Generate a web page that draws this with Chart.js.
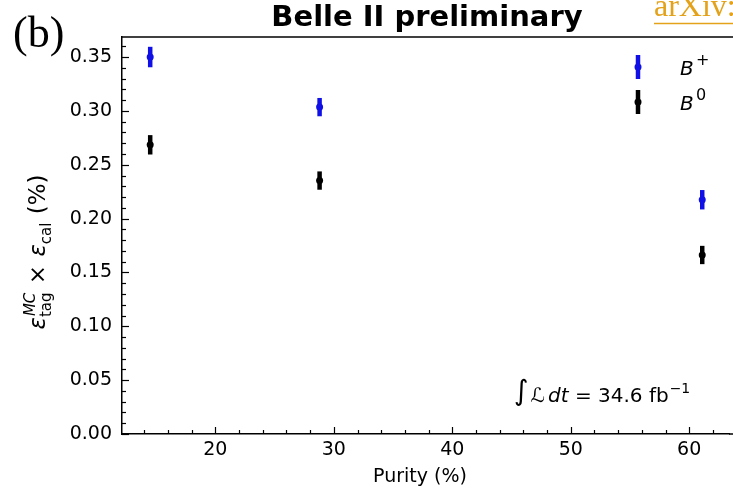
<!DOCTYPE html>
<html><head><meta charset="utf-8">
<script src="https://cdn.jsdelivr.net/npm/chart.js@4.4.0/dist/chart.umd.min.js"></script>
<style>html,body{margin:0;padding:0;background:#fff;overflow:hidden}</style>
</head><body>
<canvas id="c" width="733" height="493"></canvas>
<script>
// ---- data ----
const purity    = [14.5, 28.8, 61.1];
const bPlus     = [0.350, 0.3035, 0.2175];
const bPlusErr  = [0.0095, 0.0085, 0.009];
const bZero     = [0.2685, 0.2353, 0.1662];
const bZeroErr  = [0.009, 0.0085, 0.0085];
const xTicks      = [20, 30, 40, 50, 60];
const xTickLabels = ['20', '30', '40', '50', '60'];
const yTicks      = [0.00, 0.05, 0.10, 0.15, 0.20, 0.25, 0.30, 0.35];
const yTickLabels = ['0.00', '0.05', '0.10', '0.15', '0.20', '0.25', '0.30', '0.35'];
const xMinorStep = 2, yMinorStep = 0.01;

const BLUE = '#1010e6', BLACK = '#000000';
const FONT = '"DejaVu Sans", sans-serif';

const errs = [bPlusErr, bZeroErr];

const decor = {
  id: 'decor',
  beforeDatasetsDraw(chart) {
    const {ctx, scales: {x, y}} = chart;
    ctx.save();
    chart.data.datasets.forEach((ds, di) => {
      ctx.strokeStyle = ds.borderColor;
      ctx.lineWidth = 4.5;
      ctx.lineCap = 'butt';
      ds.data.forEach((p, i) => {
        const e = errs[di][i];
        const px = x.getPixelForValue(p.x);
        ctx.beginPath();
        ctx.moveTo(px, y.getPixelForValue(p.y + e));
        ctx.lineTo(px, y.getPixelForValue(p.y - e));
        ctx.stroke();
      });
    });
    ctx.restore();
  },
  afterDraw(chart) {
    const {ctx, chartArea: a, scales: {x, y}} = chart;
    const W = chart.width;
    ctx.save();
    // top spine
    ctx.strokeStyle = '#000'; ctx.lineWidth = 1.5;
    ctx.beginPath(); ctx.moveTo(a.left, a.top); ctx.lineTo(W, a.top); ctx.stroke();
    ctx.beginPath(); ctx.moveTo(a.right, a.bottom); ctx.lineTo(W, a.bottom); ctx.stroke();
    // inward ticks
    ctx.lineWidth = 1.2;
    const minorX = [];
    for (let v = Math.ceil(x.min / xMinorStep) * xMinorStep; v <= x.max; v += xMinorStep) minorX.push(v);
    minorX.forEach(v => {
      const major = xTicks.some(t => Math.abs(t - v) < 1e-6);
      const px = Math.round(x.getPixelForValue(v)) + 0.5;
      ctx.beginPath(); ctx.moveTo(px, a.bottom); ctx.lineTo(px, a.bottom - (major ? 7 : 4)); ctx.stroke();
    });
    for (let k = 0; k * yMinorStep <= y.max + 1e-9; k++) {
      const v = k * yMinorStep;
      const major = yTicks.some(t => Math.abs(t - v) < 1e-6);
      const py = Math.round(y.getPixelForValue(v)) + 0.5;
      ctx.beginPath(); ctx.moveTo(a.left, py); ctx.lineTo(a.left + (major ? 7 : 4), py); ctx.stroke();
    }
    ctx.fillStyle = '#000';
    ctx.textBaseline = 'alphabetic';
    // title
    ctx.font = 'bold 29px ' + FONT; ctx.textAlign = 'center';
    ctx.fillText('Belle II preliminary', 427, 26);
    // (b)
    ctx.font = '44px "Liberation Serif", serif'; ctx.textAlign = 'left';
    ctx.fillText('(b)', 13, 47);
    // arXiv link
    ctx.fillStyle = '#e3a21a'; ctx.strokeStyle = '#e3a21a';
    ctx.font = '32px "Liberation Serif", serif';
    ctx.fillText('arXiv:2008.06096', 654, 16);
    const w = ctx.measureText('arXiv:2008.06096').width;
    ctx.lineWidth = 1.5;
    ctx.beginPath(); ctx.moveTo(654, 23.5); ctx.lineTo(654 + w, 23.5); ctx.stroke();
    // x label
    ctx.fillStyle = '#000';
    ctx.font = '19px ' + FONT; ctx.textAlign = 'center';
    ctx.fillText('Purity (%)', 420, 482);
    // y label (rotated rich text)
    ctx.save();
    ctx.translate(45, 252); ctx.rotate(-Math.PI / 2);
    ctx.textAlign = 'left';
    const big = '23px ' + FONT, bigI = 'italic 23px ' + FONT, sm = '15px ' + FONT, smI = 'italic 15px ' + FONT;
    const meas = (t, f) => { ctx.font = f; return ctx.measureText(t).width; };
    const wStack = Math.max(meas('MC', smI), meas('tag', sm));
    const gap = 1;
    const total = meas('ε', bigI) + wStack + meas(' × ', big) + 2 * gap + meas('ε', bigI) + meas('cal', sm) + meas(' (%)', big) + 1;
    let cx = -total / 2;
    const put = (t, f, dy) => { ctx.font = f; ctx.fillText(t, cx, dy); cx += ctx.measureText(t).width; };
    put('ε', bigI, 0);
    ctx.font = smI; ctx.fillText('MC', cx + 1, -10);
    ctx.font = sm; ctx.fillText('tag', cx, 6);
    cx += wStack + gap;
    put(' × ', big, 0);
    cx += gap;
    put('ε', bigI, 0);
    put('cal', sm, 6);
    cx += 1;
    put(' (%)', big, 0);
    ctx.restore();
    // legend
    const leg = [[BLUE, '+', 67], [BLACK, '0', 102]];
    leg.forEach(([c, s, ly]) => {
      ctx.strokeStyle = c; ctx.fillStyle = c; ctx.lineWidth = 4.5;
      ctx.beginPath(); ctx.moveTo(638, ly - 12); ctx.lineTo(638, ly + 12); ctx.stroke();
      ctx.beginPath(); ctx.arc(638, ly, 3.5, 0, Math.PI * 2); ctx.fill();
      ctx.fillStyle = '#000'; ctx.textAlign = 'left';
      ctx.font = 'italic 20px ' + FONT; ctx.fillText('B', 680, ly + 8);
      ctx.font = '16px ' + FONT; ctx.fillText(s, 696, ly - 2);
    });
    // luminosity annotation
    ctx.fillStyle = '#000';
    let ax = 514;
    ctx.font = '28px ' + FONT; ctx.fillText('∫', ax, 400); ax += ctx.measureText('∫').width + 2;
    ctx.font = 'italic 20px ' + FONT; ctx.fillText('ℒ', ax, 402); ax += ctx.measureText('ℒ').width + 3;
    ctx.fillText('dt', ax, 402); ax += ctx.measureText('dt').width;
    ctx.font = '20px ' + FONT; ctx.fillText(' = 34.6 fb', ax, 402); ax += ctx.measureText(' = 34.6 fb').width + 1;
    ctx.font = '14px ' + FONT; ctx.fillText('−1', ax, 393);
    ctx.restore();
  }
};

const tickFont = {family: FONT, size: 19};

new Chart(document.getElementById('c'), {
  type: 'scatter',
  data: {
    datasets: [
      {label: 'B+', data: purity.map((p, i) => ({x: p, y: bPlus[i]})), borderColor: BLUE, backgroundColor: BLUE, pointRadius: 3.5, pointBorderWidth: 0},
      {label: 'B0', data: purity.map((p, i) => ({x: p, y: bZero[i]})), borderColor: BLACK, backgroundColor: BLACK, pointRadius: 3.5, pointBorderWidth: 0}
    ]
  },
  options: {
    responsive: false, animation: false, events: [],
    layout: {padding: {top: 37, left: 0, right: 0, bottom: 0}},
    plugins: {legend: {display: false}, tooltip: {enabled: false}},
    scales: {
      x: {
        type: 'linear', min: 12.12, max: 63.36,
        afterBuildTicks: s => { s.ticks = xTicks.map(v => ({value: v})); },
        afterFit: s => { s.height = 59; },
        grid: {display: false, drawTicks: false},
        border: {display: true, color: '#000', width: 1.5},
        ticks: {font: tickFont, color: '#000', padding: 5, maxRotation: 0, autoSkip: false,
                callback: (v, i) => xTickLabels[i]}
      },
      y: {
        type: 'linear', min: 0, max: 0.3686,
        afterBuildTicks: s => { s.ticks = yTicks.map(v => ({value: v})); },
        afterFit: s => { s.width = 122; },
        grid: {display: false, drawTicks: false},
        border: {display: true, color: '#000', width: 1.5},
        ticks: {font: tickFont, color: '#000', padding: 10, autoSkip: false,
                callback: (v, i) => yTickLabels[i]}
      }
    }
  },
  plugins: [decor]
});
</script>
</body></html>
